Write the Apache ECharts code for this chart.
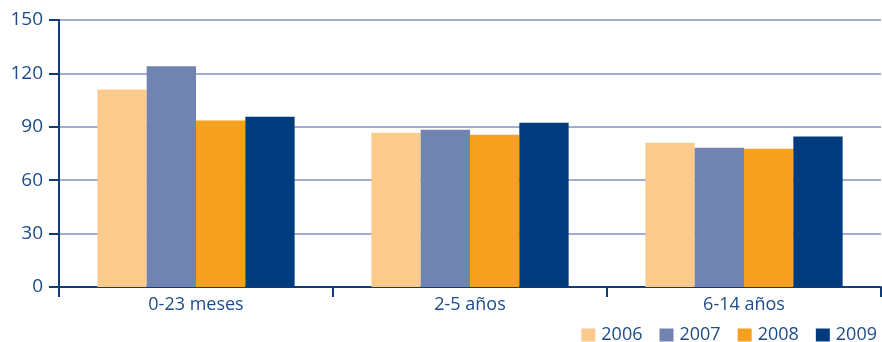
<!DOCTYPE html>
<html><head><meta charset="utf-8">
<script src="https://cdn.jsdelivr.net/npm/echarts@6/dist/echarts.min.js"></script>
<style>html,body{margin:0;padding:0;background:#fff}#c{width:882px;height:342px}</style>
</head><body><div id="c"></div>
<script>
const categories = ['0-23 meses', '2-5 años', '6-14 años'];
const years = ['2006', '2007', '2008', '2009'];
const s2006 = [111, 86.7, 81.1];
const s2007 = [124, 88.4, 78.3];
const s2008 = [93.5, 85.6, 77.7];
const s2009 = [95.7, 92.3, 84.5];
const yTicks = [0, 30, 60, 90, 120, 150];
const colors = ['#FACB8C', '#7083B1', '#F5A01E', '#003C7D'];
const values = [s2006, s2007, s2008, s2009];
const txt = '#1D4C89';
const font = 'Open Sans';
const chart = echarts.init(document.getElementById('c'), null, {renderer: 'canvas'});
chart.setOption({
  animation: false,
  color: colors,
  grid: {left: 59, right: 1, top: 20, bottom: 55, containLabel: false},
  legend: {
    right: 0, bottom: -7, itemWidth: 14, itemHeight: 13, itemGap: 17,
    icon: 'rect', data: years,
    textStyle: {color: txt, fontSize: 18, fontFamily: font, padding: [0, 0, 0, 1]}
  },
  xAxis: {
    type: 'category', data: categories,
    axisLine: {lineStyle: {color: '#0D3C78', width: 2}},
    axisTick: {show: true, length: 10, lineStyle: {color: '#0D3C78', width: 2}},
    axisLabel: {color: txt, fontSize: 18, fontFamily: font, margin: 9}
  },
  yAxis: {
    type: 'value', min: yTicks[0], max: yTicks[yTicks.length - 1], interval: 30,
    axisLine: {show: true, lineStyle: {color: '#0D3C78', width: 2}},
    axisTick: {show: true, length: 10, lineStyle: {color: '#0D3C78', width: 2}},
    axisLabel: {color: txt, fontSize: 19, fontFamily: font, margin: 16},
    splitLine: {lineStyle: {color: '#8090C0', width: 1.5}}
  },
  series: years.map((y, i) => ({
    name: y, type: 'bar', data: values[i],
    barGap: '0%', barCategoryGap: '28%',
    itemStyle: {color: colors[i]}
  }))
});
</script></body></html>
